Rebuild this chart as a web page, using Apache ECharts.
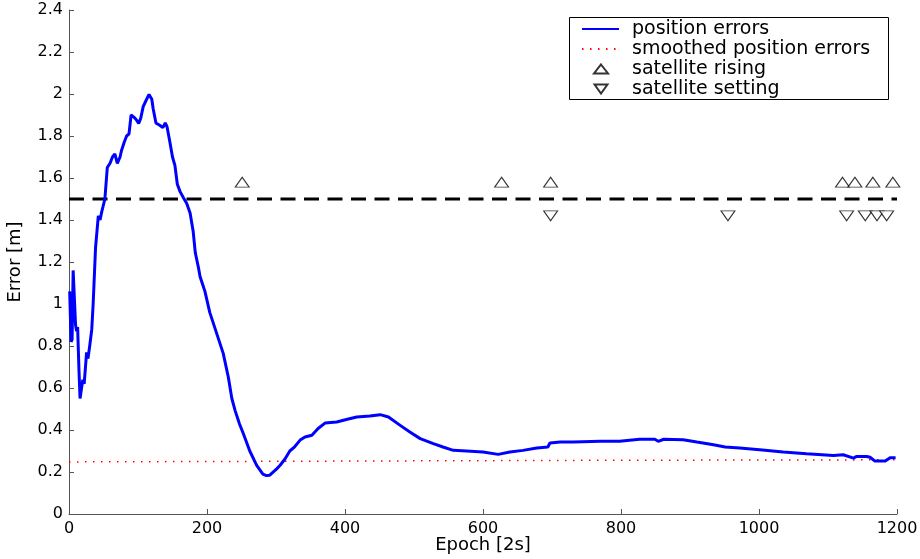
<!DOCTYPE html>
<html>
<head>
<meta charset="utf-8">
<title>Position errors</title>
<script src="https://cdn.jsdelivr.net/npm/echarts@6/dist/echarts.min.js"></script>
<style>
  html, body { margin: 0; padding: 0; background: #fff; }
  #main { width: 920px; height: 559px; }
</style>
</head>
<body>
<div id="main"></div>
<script>
(function() {
  var myChart = echarts.init(document.getElementById("main"));

  // position errors [epoch, error m]
  var positionErrors = [
    [1, 1.06], [3, 0.82], [4.5, 0.83], [6, 1.16], [8, 1.16], [9.5, 0.9],
    [11, 0.87], [12.5, 0.89], [14.5, 0.68], [16, 0.55], [18, 0.55], [20, 0.64],
    [22, 0.62], [25.5, 0.77], [27.5, 0.74], [30, 0.80], [33, 0.88], [35, 1.0],
    [38.5, 1.27], [42.5, 1.42], [45, 1.40], [47.5, 1.44], [52, 1.50], [55.5, 1.65],
    [59.5, 1.67], [63, 1.70], [66.5, 1.715], [70, 1.67], [74, 1.70], [76, 1.73],
    [80, 1.77], [83.5, 1.80], [87, 1.81], [90, 1.90], [94, 1.89], [97, 1.88],
    [101, 1.86], [104, 1.885], [107.5, 1.94], [112.5, 1.975], [116, 1.998], [120, 1.975],
    [122, 1.93], [126, 1.862], [132, 1.85], [136, 1.84], [139.5, 1.862], [142, 1.845],
    [146, 1.775], [150, 1.70], [153.5, 1.66], [157, 1.57], [161, 1.535], [166, 1.505],
    [170.5, 1.48], [175.5, 1.433], [180, 1.345], [183, 1.245], [187.5, 1.175], [190, 1.13],
    [193, 1.10], [197, 1.06], [204, 0.96], [214, 0.86], [223.5, 0.765], [231, 0.65],
    [236, 0.55], [241, 0.49], [247, 0.43], [253, 0.38], [262, 0.30], [272, 0.232],
    [281, 0.19], [286, 0.183], [291, 0.185], [301, 0.215], [306, 0.232], [313, 0.262],
    [320, 0.30], [327, 0.32], [335, 0.352], [342, 0.367], [352, 0.375], [361, 0.407],
    [371, 0.433], [388, 0.438], [402, 0.45], [417, 0.462], [436, 0.467], [451, 0.473],
    [463, 0.462], [480, 0.422], [494, 0.39], [509, 0.359], [528, 0.335], [542, 0.319],
    [557, 0.303], [576, 0.30], [600, 0.295], [622, 0.284], [639, 0.295], [658, 0.303],
    [678, 0.314], [694, 0.319], [697, 0.338], [712, 0.343], [731, 0.343], [770, 0.347],
    [798, 0.346], [827, 0.356], [849, 0.356], [854, 0.346], [862, 0.356], [890, 0.354],
    [910, 0.343], [934, 0.33], [951, 0.319], [972, 0.314], [1001, 0.306], [1035, 0.295],
    [1069, 0.287], [1108, 0.279], [1122, 0.282], [1137, 0.266], [1141, 0.274], [1156, 0.274],
    [1161, 0.27], [1168, 0.252], [1183, 0.252], [1190, 0.268], [1198, 0.268]
  ];

  var smoothedErrors = [[0, 0.248], [400, 0.252], [800, 0.256], [1200, 0.258]];

  var threshold = 1.5;
  var risingLevel = 1.58;
  var settingLevel = 1.42;
  var risingEpochs = [251, 627, 698, 1121, 1139, 1165, 1194];
  var settingEpochs = [698, 955, 1127, 1154, 1171, 1185];

  var font = "DejaVu Sans";
  var downTriangle = "path://M0,0L20,0L10,14Z";

  var option = {
    animation: false,
    backgroundColor: "#fff",
    textStyle: { fontFamily: font },
    grid: { left: 69, right: 23, top: 10, bottom: 45, containLabel: false, outerBoundsMode: "none" },
    graphic: [{
      type: "rect",
      left: 569,
      top: 17,
      z: 3,
      shape: { width: 319, height: 82 },
      style: { fill: "#fff", stroke: "#000", lineWidth: 1 }
    }],
    legend: [{
      left: 581,
      top: 19,
      orient: "vertical",
      padding: 0,
      itemGap: 0,
      itemWidth: 37,
      itemHeight: 14,
      selectedMode: false,
      z: 5,
      itemStyle: { opacity: 0 },
      lineStyle: { width: 2 },
      textStyle: { fontFamily: font, fontSize: 19, color: "#000", lineHeight: 20, padding: [0, 0, 0, 8] },
      data: ["position errors", "smoothed position errors"]
    }, {
      left: 593,
      top: 59,
      orient: "vertical",
      padding: 0,
      itemGap: 0,
      itemWidth: 14,
      itemHeight: 9,
      selectedMode: false,
      z: 5,
      textStyle: { fontFamily: font, fontSize: 19, color: "#000", lineHeight: 20, padding: [0, 0, 0, 19] },
      data: ["satellite rising", "satellite setting"]
    }],
    xAxis: {
      type: "value",
      min: 0,
      max: 1200,
      interval: 200,
      name: "Epoch [2s]",
      nameLocation: "middle",
      nameGap: 22,
      nameMoveOverlap: false,
      nameTextStyle: { fontFamily: font, fontSize: 18, color: "#000" },
      axisLine: { lineStyle: { color: "#555", width: 1 } },
      axisTick: { inside: true, length: 5, lineStyle: { color: "#555" } },
      axisLabel: {
        fontFamily: font, fontSize: 16, color: "#000", margin: 7,
        formatter: function(v) { return String(v); }
      },
      splitLine: { show: false }
    },
    yAxis: {
      type: "value",
      min: 0,
      max: 2.4,
      interval: 0.2,
      name: "Error [m]",
      nameLocation: "middle",
      nameGap: 45,
      nameMoveOverlap: false,
      nameTextStyle: { fontFamily: font, fontSize: 18, color: "#000" },
      axisLine: { show: true, lineStyle: { color: "#555", width: 1 } },
      axisTick: { show: true, inside: true, length: 5, lineStyle: { color: "#555" } },
      axisLabel: { fontFamily: font, fontSize: 16, color: "#000", margin: 6 },
      splitLine: { show: false }
    },
    series: [
      {
        name: "threshold",
        type: "line",
        symbol: "none",
        silent: true,
        data: [[0, threshold], [1200, threshold]],
        lineStyle: { color: "#000", width: 3, type: [15, 8.5] }
      },
      {
        name: "smoothed position errors",
        type: "line",
        symbol: "none",
        data: smoothedErrors,
        lineStyle: { color: "#ff0000", width: 1.5, type: [1.5, 6.5] }
      },
      {
        name: "position errors",
        type: "line",
        symbol: "none",
        data: positionErrors,
        lineStyle: { color: "#0000ff", width: 3 }
      },
      {
        name: "satellite rising",
        type: "scatter",
        symbol: "triangle",
        symbolSize: [14, 10],
        data: risingEpochs.map(function(e) { return [e, risingLevel]; }),
        itemStyle: { color: "#fff", borderColor: "#000", borderWidth: 1 }
      },
      {
        name: "satellite setting",
        type: "scatter",
        symbol: downTriangle,
        symbolSize: [14, 10],
        data: settingEpochs.map(function(e) { return [e, settingLevel]; }),
        itemStyle: { color: "#fff", borderColor: "#000", borderWidth: 1 }
      }
    ]
  };

  myChart.setOption(option);
  window.addEventListener("resize", function() {
    myChart.resize();
  });
})();
</script>
</body>
</html>
